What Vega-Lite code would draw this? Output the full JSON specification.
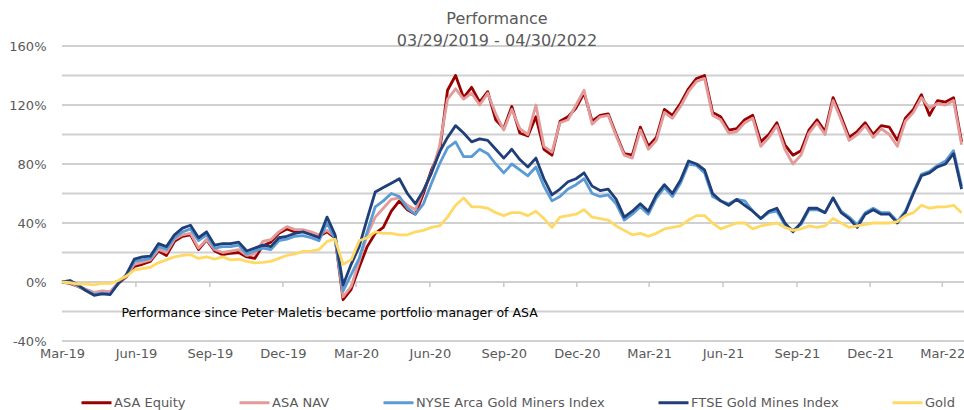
{
  "$schema": "https://vega.github.io/schema/vega-lite/v6.json",
  "width": 902,
  "height": 295,
  "autosize": {"type": "none"},
  "padding": {"left": 62, "top": 46, "right": 0, "bottom": 69},
  "background": "#ffffff",
  "title": {
    "text": ["Performance", "03/29/2019 - 04/30/2022"],
    "fontSize": 16,
    "fontWeight": "normal",
    "font": "DejaVu Sans",
    "color": "#595959",
    "anchor": "middle",
    "dx": -16,
    "lineHeight": 22,
    "baseline": "alphabetic",
    "offset": -22
  },
  "config": {
    "view": {"stroke": null},
    "font": "DejaVu Sans",
    "legend": {
      "orient": "none",
      "legendX": 18,
      "legendY": 340,
      "direction": "horizontal",
      "title": null,
      "labelFontSize": 13,
      "labelColor": "#595959",
      "labelFont": "DejaVu Sans",
      "labelLimit": 400,
      "symbolSize": 900,
      "symbolStrokeWidth": 3,
      "symbolType": "stroke",
      "labelOffset": 1,
      "columnPadding": 47
    }
  },
  "layer": [
    {
      "data": {"values": [
        {"g": -40, "d": "2019-03-29"}, {"g": -40, "d": "2022-04-25"},
        {"g": -20, "d": "2019-03-29"}, {"g": -20, "d": "2022-04-25"},
        {"g": 0, "d": "2019-03-29"}, {"g": 0, "d": "2022-04-25"},
        {"g": 20, "d": "2019-03-29"}, {"g": 20, "d": "2022-04-25"},
        {"g": 40, "d": "2019-03-29"}, {"g": 40, "d": "2022-04-25"},
        {"g": 60, "d": "2019-03-29"}, {"g": 60, "d": "2022-04-25"},
        {"g": 80, "d": "2019-03-29"}, {"g": 80, "d": "2022-04-25"},
        {"g": 100, "d": "2019-03-29"}, {"g": 100, "d": "2022-04-25"},
        {"g": 120, "d": "2019-03-29"}, {"g": 120, "d": "2022-04-25"},
        {"g": 140, "d": "2019-03-29"}, {"g": 140, "d": "2022-04-25"},
        {"g": 160, "d": "2019-03-29"}, {"g": 160, "d": "2022-04-25"}
      ]},
      "mark": {"type": "line", "stroke": "#d0d0d0", "strokeWidth": 1.8},
      "encoding": {
        "x": {"field": "d", "type": "temporal"},
        "y": {
          "field": "g",
          "type": "quantitative",
          "scale": {"domain": [-40, 160], "nice": false, "zero": false},
          "axis": {
            "title": null,
            "values": [-40, -20, 0, 20, 40, 60, 80, 100, 120, 140, 160],
            "labelExpr": "datum.value + '%'",
            "domain": false,
            "ticks": false,
            "grid": false,
            "labelColor": "#595959",
            "labelFontSize": 13,
            "labelPadding": 16
          }
        },
        "detail": {"field": "g", "type": "nominal"}
      }
    },
    {
      "data": {"values": [
        {"d": "2019-06-29", "v": 0}, {"d": "2019-06-29", "v": -3.4},
        {"d": "2019-09-29", "v": 0}, {"d": "2019-09-29", "v": -3.4},
        {"d": "2019-12-29", "v": 0}, {"d": "2019-12-29", "v": -3.4},
        {"d": "2020-03-29", "v": 0}, {"d": "2020-03-29", "v": -3.4},
        {"d": "2020-06-29", "v": 0}, {"d": "2020-06-29", "v": -3.4},
        {"d": "2020-09-29", "v": 0}, {"d": "2020-09-29", "v": -3.4},
        {"d": "2020-12-29", "v": 0}, {"d": "2020-12-29", "v": -3.4},
        {"d": "2021-03-29", "v": 0}, {"d": "2021-03-29", "v": -3.4},
        {"d": "2021-06-29", "v": 0}, {"d": "2021-06-29", "v": -3.4},
        {"d": "2021-09-29", "v": 0}, {"d": "2021-09-29", "v": -3.4},
        {"d": "2021-12-29", "v": 0}, {"d": "2021-12-29", "v": -3.4},
        {"d": "2022-03-29", "v": 0}, {"d": "2022-03-29", "v": -3.4}
      ]},
      "mark": {"type": "line", "stroke": "#c8c8c8", "strokeWidth": 1.5},
      "encoding": {
        "x": {"field": "d", "type": "temporal"},
        "y": {"field": "v", "type": "quantitative"},
        "detail": {"field": "d", "type": "temporal"}
      }
    },
    {
      "data": {"values": [
        {"d":"2019-03-29","eq":0,"nav":0,"nyse":0,"ftse":0,"gold":0},
        {"d":"2019-04-08","eq":-1,"nav":-0.5,"nyse":0.5,"ftse":1,"gold":-0.5},
        {"d":"2019-04-18","eq":-3,"nav":-3,"nyse":-2.5,"ftse":-2,"gold":-1.5},
        {"d":"2019-04-28","eq":-5.5,"nav":-5,"nyse":-5.5,"ftse":-6,"gold":-1.5},
        {"d":"2019-05-08","eq":-7.5,"nav":-7,"nyse":-8.5,"ftse":-9,"gold":-2},
        {"d":"2019-05-18","eq":-6.5,"nav":-6,"nyse":-7.5,"ftse":-8,"gold":-0.7},
        {"d":"2019-05-28","eq":-7,"nav":-6.5,"nyse":-8,"ftse":-8.5,"gold":-1},
        {"d":"2019-06-07","eq":-1,"nav":-0.5,"nyse":-1,"ftse":-1,"gold":1},
        {"d":"2019-06-17","eq":3.5,"nav":4,"nyse":4.5,"ftse":5,"gold":4},
        {"d":"2019-06-27","eq":10.5,"nav":12,"nyse":14,"ftse":15.5,"gold":8},
        {"d":"2019-07-07","eq":12,"nav":13.5,"nyse":15,"ftse":17,"gold":9},
        {"d":"2019-07-17","eq":14,"nav":15,"nyse":16,"ftse":17.5,"gold":10},
        {"d":"2019-07-27","eq":21,"nav":22,"nyse":24,"ftse":26,"gold":13},
        {"d":"2019-08-06","eq":18,"nav":20,"nyse":22,"ftse":24,"gold":15},
        {"d":"2019-08-16","eq":27.5,"nav":29,"nyse":30,"ftse":32,"gold":17},
        {"d":"2019-08-26","eq":31,"nav":32,"nyse":34,"ftse":36.5,"gold":18},
        {"d":"2019-09-05","eq":32,"nav":33,"nyse":36,"ftse":38.5,"gold":18.5},
        {"d":"2019-09-15","eq":22,"nav":23,"nyse":28,"ftse":30,"gold":16},
        {"d":"2019-09-25","eq":28.5,"nav":29,"nyse":32,"ftse":34,"gold":17},
        {"d":"2019-10-05","eq":21,"nav":22,"nyse":23,"ftse":25,"gold":15.5},
        {"d":"2019-10-15","eq":18.5,"nav":20,"nyse":24,"ftse":26,"gold":17},
        {"d":"2019-10-25","eq":19.5,"nav":21,"nyse":24,"ftse":26,"gold":15},
        {"d":"2019-11-04","eq":20,"nav":22,"nyse":25,"ftse":27,"gold":15.5},
        {"d":"2019-11-14","eq":17,"nav":18,"nyse":19,"ftse":21,"gold":14},
        {"d":"2019-11-24","eq":16,"nav":19,"nyse":21,"ftse":23,"gold":13},
        {"d":"2019-12-04","eq":24.5,"nav":27.5,"nyse":23,"ftse":25,"gold":13.3},
        {"d":"2019-12-14","eq":27,"nav":28.7,"nyse":22,"ftse":24,"gold":14},
        {"d":"2019-12-24","eq":33,"nav":34,"nyse":28,"ftse":30,"gold":16},
        {"d":"2020-01-03","eq":36,"nav":37.5,"nyse":29,"ftse":31,"gold":18},
        {"d":"2020-01-13","eq":34,"nav":35.5,"nyse":31,"ftse":33,"gold":19},
        {"d":"2020-01-23","eq":34.5,"nav":35.5,"nyse":31.5,"ftse":34,"gold":20.8},
        {"d":"2020-02-02","eq":33,"nav":34,"nyse":30,"ftse":32,"gold":21},
        {"d":"2020-02-12","eq":31,"nav":32,"nyse":28,"ftse":30,"gold":22},
        {"d":"2020-02-22","eq":34,"nav":35,"nyse":40,"ftse":44,"gold":27.5},
        {"d":"2020-03-03","eq":30,"nav":31,"nyse":29,"ftse":32,"gold":29},
        {"d":"2020-03-13","eq":-12,"nav":-10,"nyse":-6,"ftse":-2,"gold":12},
        {"d":"2020-03-23","eq":-5,"nav":-3,"nyse":5,"ftse":12,"gold":15},
        {"d":"2020-04-02","eq":10,"nav":14,"nyse":16,"ftse":24,"gold":28},
        {"d":"2020-04-12","eq":24,"nav":32,"nyse":34,"ftse":43,"gold":30},
        {"d":"2020-04-22","eq":33,"nav":44,"nyse":51,"ftse":61,"gold":34},
        {"d":"2020-05-02","eq":37,"nav":50,"nyse":55,"ftse":64,"gold":33},
        {"d":"2020-05-12","eq":48,"nav":56,"nyse":60,"ftse":67,"gold":33},
        {"d":"2020-05-22","eq":55,"nav":57,"nyse":58,"ftse":70,"gold":32},
        {"d":"2020-06-01","eq":49,"nav":52,"nyse":50,"ftse":60,"gold":32},
        {"d":"2020-06-11","eq":46,"nav":49,"nyse":46,"ftse":53,"gold":34},
        {"d":"2020-06-21","eq":60,"nav":62,"nyse":53,"ftse":62,"gold":35},
        {"d":"2020-07-01","eq":76,"nav":74,"nyse":67,"ftse":74,"gold":37},
        {"d":"2020-07-11","eq":88,"nav":92,"nyse":80,"ftse":88,"gold":38},
        {"d":"2020-07-21","eq":130,"nav":124,"nyse":91,"ftse":98,"gold":44},
        {"d":"2020-07-31","eq":140,"nav":131,"nyse":95,"ftse":106,"gold":52},
        {"d":"2020-08-10","eq":125,"nav":124,"nyse":85,"ftse":101,"gold":57},
        {"d":"2020-08-20","eq":132,"nav":128,"nyse":85,"ftse":95,"gold":51},
        {"d":"2020-08-30","eq":122,"nav":120,"nyse":90,"ftse":97,"gold":51},
        {"d":"2020-09-09","eq":129,"nav":128,"nyse":87,"ftse":96,"gold":50},
        {"d":"2020-09-19","eq":110,"nav":114,"nyse":80,"ftse":90,"gold":47},
        {"d":"2020-09-29","eq":104,"nav":103,"nyse":74,"ftse":84,"gold":45},
        {"d":"2020-10-09","eq":119,"nav":117,"nyse":80,"ftse":90,"gold":47},
        {"d":"2020-10-19","eq":101,"nav":104,"nyse":76,"ftse":83,"gold":47},
        {"d":"2020-10-29","eq":99,"nav":100,"nyse":72,"ftse":78,"gold":45},
        {"d":"2020-11-08","eq":112,"nav":120,"nyse":78,"ftse":84,"gold":48},
        {"d":"2020-11-18","eq":90,"nav":92,"nyse":65,"ftse":70,"gold":43},
        {"d":"2020-11-28","eq":86,"nav":88,"nyse":55,"ftse":59,"gold":37},
        {"d":"2020-12-08","eq":109,"nav":108,"nyse":58,"ftse":63,"gold":44},
        {"d":"2020-12-18","eq":112,"nav":110,"nyse":63,"ftse":68,"gold":45},
        {"d":"2020-12-28","eq":118,"nav":120,"nyse":66,"ftse":70,"gold":46},
        {"d":"2021-01-07","eq":128,"nav":130,"nyse":70,"ftse":74,"gold":49},
        {"d":"2021-01-17","eq":109,"nav":107,"nyse":60,"ftse":65,"gold":44},
        {"d":"2021-01-27","eq":113,"nav":112,"nyse":58,"ftse":62,"gold":43},
        {"d":"2021-02-06","eq":114,"nav":113,"nyse":59,"ftse":63,"gold":42},
        {"d":"2021-02-16","eq":100,"nav":99,"nyse":53,"ftse":56,"gold":38},
        {"d":"2021-02-26","eq":87,"nav":86,"nyse":42,"ftse":44,"gold":35},
        {"d":"2021-03-08","eq":86,"nav":84,"nyse":46,"ftse":48,"gold":32},
        {"d":"2021-03-18","eq":105,"nav":103,"nyse":51,"ftse":53,"gold":33},
        {"d":"2021-03-28","eq":92,"nav":90,"nyse":46,"ftse":48,"gold":31},
        {"d":"2021-04-07","eq":98,"nav":96,"nyse":57,"ftse":59,"gold":33},
        {"d":"2021-04-17","eq":117,"nav":115,"nyse":64,"ftse":66,"gold":36},
        {"d":"2021-04-27","eq":113,"nav":111,"nyse":58,"ftse":60,"gold":37},
        {"d":"2021-05-07","eq":121,"nav":119,"nyse":67,"ftse":69,"gold":38},
        {"d":"2021-05-17","eq":131,"nav":129,"nyse":80,"ftse":82,"gold":42},
        {"d":"2021-05-27","eq":138,"nav":136,"nyse":79,"ftse":80,"gold":45},
        {"d":"2021-06-06","eq":140,"nav":138,"nyse":74,"ftse":76,"gold":45},
        {"d":"2021-06-16","eq":115,"nav":113,"nyse":58,"ftse":60,"gold":40},
        {"d":"2021-06-26","eq":112,"nav":110,"nyse":55,"ftse":55,"gold":36},
        {"d":"2021-07-06","eq":103,"nav":101,"nyse":53,"ftse":52,"gold":38},
        {"d":"2021-07-16","eq":104,"nav":102,"nyse":56,"ftse":56,"gold":40},
        {"d":"2021-07-26","eq":110,"nav":108,"nyse":55,"ftse":52,"gold":40},
        {"d":"2021-08-05","eq":113,"nav":111,"nyse":48,"ftse":48,"gold":36},
        {"d":"2021-08-15","eq":95,"nav":92,"nyse":43,"ftse":43,"gold":38},
        {"d":"2021-08-25","eq":100,"nav":98,"nyse":47,"ftse":48,"gold":39},
        {"d":"2021-09-04","eq":108,"nav":106,"nyse":48,"ftse":50,"gold":40},
        {"d":"2021-09-14","eq":93,"nav":90,"nyse":39,"ftse":40,"gold":37},
        {"d":"2021-09-24","eq":86,"nav":80,"nyse":35,"ftse":34,"gold":35},
        {"d":"2021-10-04","eq":89,"nav":86,"nyse":39,"ftse":40,"gold":36},
        {"d":"2021-10-14","eq":103,"nav":101,"nyse":49,"ftse":50,"gold":38},
        {"d":"2021-10-24","eq":110,"nav":108,"nyse":49,"ftse":50,"gold":37},
        {"d":"2021-11-03","eq":102,"nav":100,"nyse":47,"ftse":47,"gold":38},
        {"d":"2021-11-13","eq":125,"nav":123,"nyse":57,"ftse":57,"gold":43},
        {"d":"2021-11-23","eq":112,"nav":110,"nyse":48,"ftse":47,"gold":40},
        {"d":"2021-12-03","eq":98,"nav":96,"nyse":44,"ftse":43,"gold":37},
        {"d":"2021-12-13","eq":102,"nav":100,"nyse":39,"ftse":37,"gold":38},
        {"d":"2021-12-23","eq":108,"nav":106,"nyse":47,"ftse":46,"gold":39},
        {"d":"2022-01-02","eq":100,"nav":98,"nyse":50,"ftse":49,"gold":40},
        {"d":"2022-01-12","eq":106,"nav":104,"nyse":47,"ftse":46,"gold":40},
        {"d":"2022-01-22","eq":105,"nav":100,"nyse":47,"ftse":46,"gold":40},
        {"d":"2022-02-01","eq":96,"nav":92,"nyse":41,"ftse":40,"gold":41},
        {"d":"2022-02-11","eq":111,"nav":109,"nyse":48,"ftse":47,"gold":45},
        {"d":"2022-02-21","eq":117,"nav":115,"nyse":61,"ftse":60,"gold":47},
        {"d":"2022-03-03","eq":127,"nav":125,"nyse":73,"ftse":72,"gold":52},
        {"d":"2022-03-13","eq":113,"nav":118,"nyse":75,"ftse":74,"gold":50},
        {"d":"2022-03-23","eq":123,"nav":121,"nyse":79,"ftse":78,"gold":51},
        {"d":"2022-04-02","eq":122,"nav":120,"nyse":82,"ftse":80,"gold":51},
        {"d":"2022-04-12","eq":125,"nav":123,"nyse":89,"ftse":87,"gold":52},
        {"d":"2022-04-22","eq":95,"nav":93,"nyse":65,"ftse":63,"gold":47}
      ]},
      "encoding": {
        "x": {
          "field": "d",
          "type": "temporal",
          "scale": {"domain": [{"year": 2019, "month": 3, "date": 29, "utc": true}, {"year": 2022, "month": 4, "date": 25, "utc": true}]},
          "axis": {
            "title": null,
            "format": "%b-%y",
            "values": [
              {"year": 2019, "month": 3, "date": 29, "utc": true},
              {"year": 2019, "month": 6, "date": 29, "utc": true},
              {"year": 2019, "month": 9, "date": 29, "utc": true},
              {"year": 2019, "month": 12, "date": 29, "utc": true},
              {"year": 2020, "month": 3, "date": 29, "utc": true},
              {"year": 2020, "month": 6, "date": 29, "utc": true},
              {"year": 2020, "month": 9, "date": 29, "utc": true},
              {"year": 2020, "month": 12, "date": 29, "utc": true},
              {"year": 2021, "month": 3, "date": 29, "utc": true},
              {"year": 2021, "month": 6, "date": 29, "utc": true},
              {"year": 2021, "month": 9, "date": 29, "utc": true},
              {"year": 2021, "month": 12, "date": 29, "utc": true},
              {"year": 2022, "month": 3, "date": 29, "utc": true}
            ],
            "domain": false,
            "ticks": false,
            "grid": false,
            "labelColor": "#595959",
            "labelFontSize": 13,
            "labelPadding": 6,
            "labelFlush": false,
            "labelOverlap": false
          }
        },
        "y": {"type": "quantitative"}
      },
      "layer": [
        {
          "mark": {"type": "line", "strokeWidth": 2.8, "strokeJoin": "round"},
          "encoding": {
            "y": {"field": "eq", "type": "quantitative"},
            "color": {
              "datum": "ASA Equity",
              "type": "nominal",
              "scale": {
                "domain": ["ASA Equity", "ASA NAV", "NYSE Arca Gold Miners Index", "FTSE Gold Mines Index", "Gold"],
                "range": ["#990000", "#E29A9A", "#5B9BD5", "#203F78", "#FFD966"]
              }
            }
          }
        },
        {
          "mark": {"type": "line", "strokeWidth": 2.8, "strokeJoin": "round"},
          "encoding": {
            "y": {"field": "nav", "type": "quantitative"},
            "color": {"datum": "ASA NAV", "type": "nominal"}
          }
        },
        {
          "mark": {"type": "line", "strokeWidth": 2.8, "strokeJoin": "round"},
          "encoding": {
            "y": {"field": "nyse", "type": "quantitative"},
            "color": {"datum": "NYSE Arca Gold Miners Index", "type": "nominal"}
          }
        },
        {
          "mark": {"type": "line", "strokeWidth": 2.8, "strokeJoin": "round"},
          "encoding": {
            "y": {"field": "ftse", "type": "quantitative"},
            "color": {"datum": "FTSE Gold Mines Index", "type": "nominal"}
          }
        },
        {
          "mark": {"type": "line", "strokeWidth": 2.8, "strokeJoin": "round"},
          "encoding": {
            "y": {"field": "gold", "type": "quantitative"},
            "color": {"datum": "Gold", "type": "nominal"}
          }
        }
      ]
    },
    {
      "data": {"values": [
        {"d": "2019-06-11", "v": -21, "t": "Performance since Peter Maletis became portfolio manager of ASA"}
      ]},
      "mark": {"type": "text", "align": "left", "baseline": "middle", "fontSize": 12.5, "font": "DejaVu Sans", "color": "#000000"},
      "encoding": {
        "x": {"field": "d", "type": "temporal"},
        "y": {"field": "v", "type": "quantitative"},
        "text": {"field": "t"}
      }
    }
  ]
}
